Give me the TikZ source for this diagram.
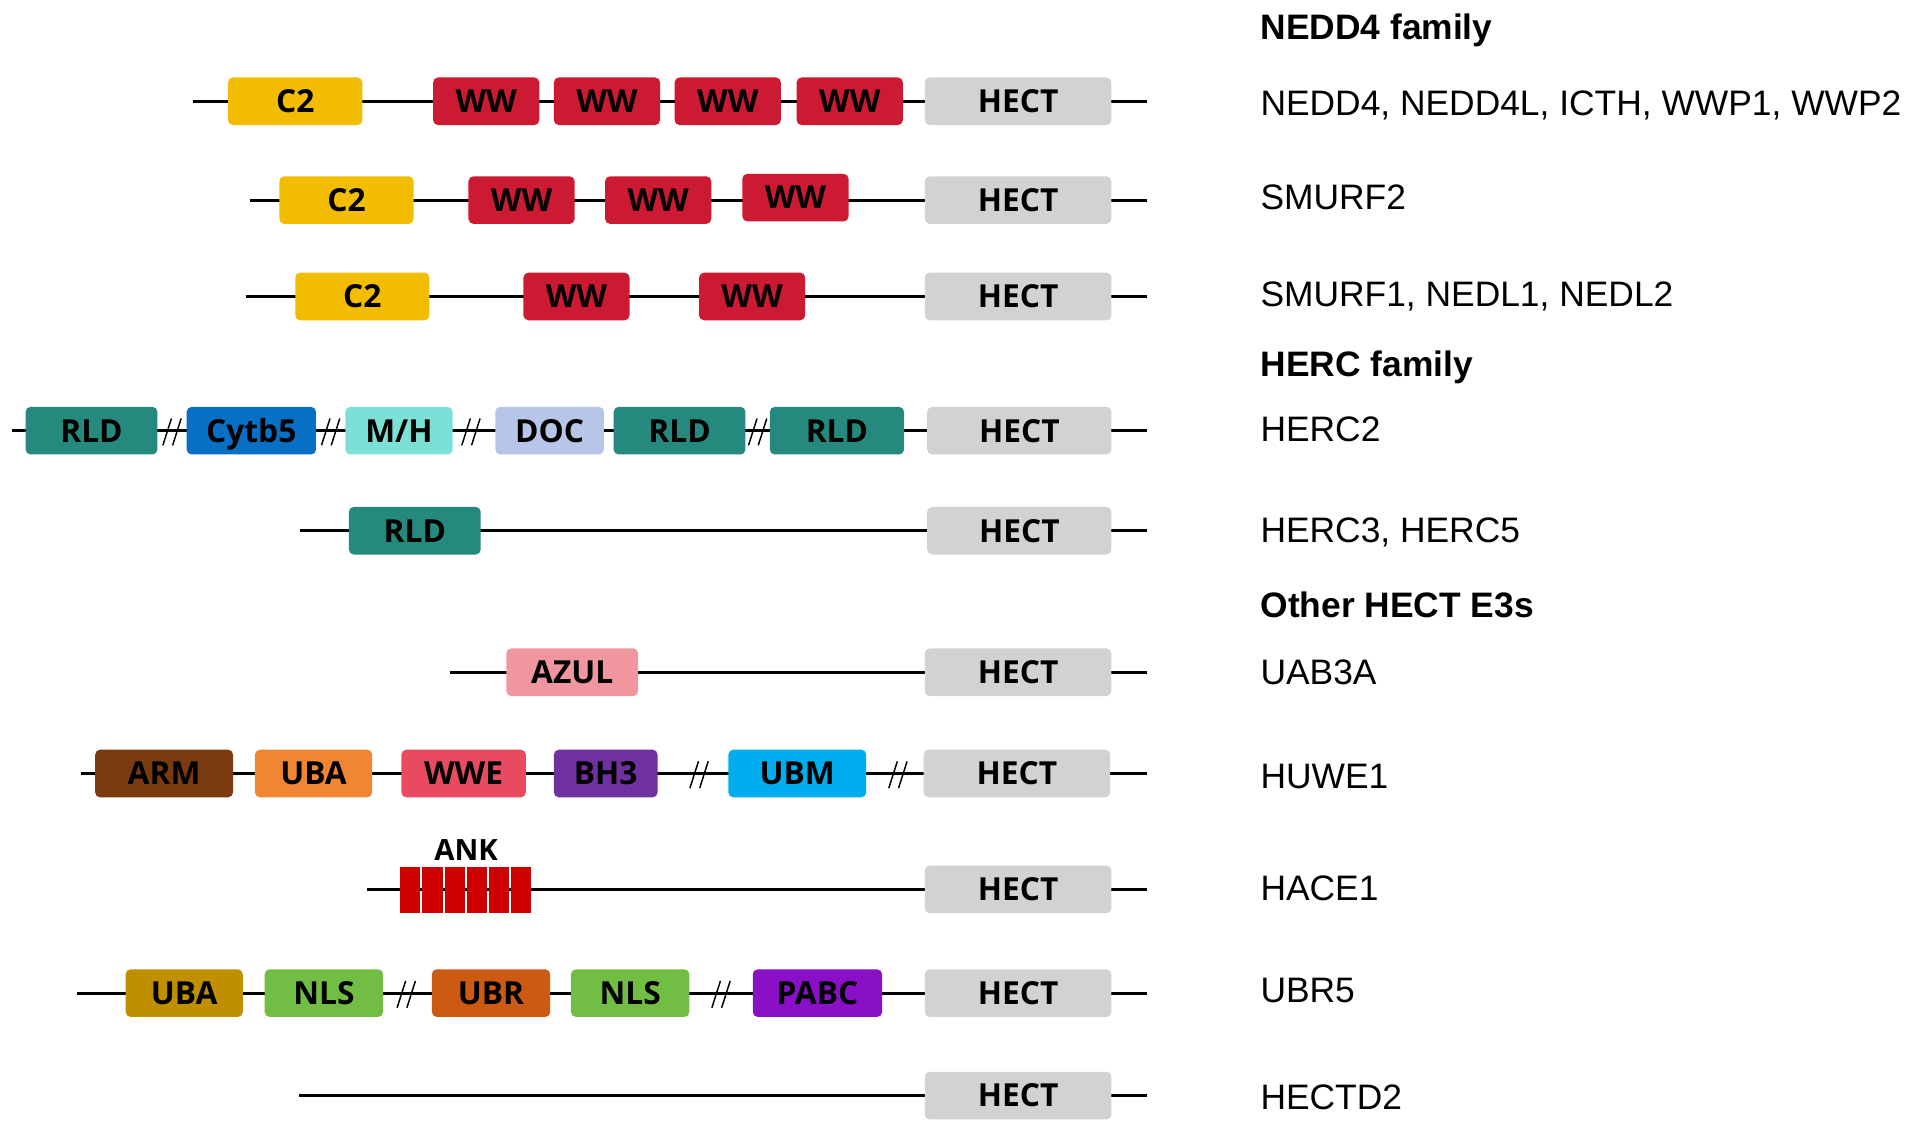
\documentclass[tikz,border=0pt]{standalone}
\usepackage{fontspec}
\setmainfont{Liberation Sans}
\newfontfamily\boxfont{Open Sans}
\begin{document}
\begin{tikzpicture}[x=1pt,y=-1pt,
  backbone/.style={line width=2.6pt},
  brk/.style={line width=1.2pt},
  dom/.style={rounded corners=4pt, minimum height=39pt, inner sep=0pt,
    text height=18.6pt, text depth=0pt, font=\boxfont\bfseries\fontsize{26}{26}\selectfont, text=black},
  hect/.style={dom, fill=hectgray, minimum width=153pt},
  ankblk/.style={fill=ankred, minimum width=16.6pt, minimum height=37pt, inner sep=0pt},
  protlbl/.style={anchor=base west, inner sep=0pt, font=\fontsize{29}{30}\selectfont},
  famlbl/.style={anchor=base west, inner sep=0pt, font=\bfseries\fontsize{29}{30}\selectfont}]
\definecolor{c2y}{HTML}{F2BC00}
\definecolor{wwred}{HTML}{CC1A33}
\definecolor{hectgray}{HTML}{D2D2D2}
\definecolor{rldteal}{HTML}{26897D}
\definecolor{cytblue}{HTML}{0770C4}
\definecolor{mhcyan}{HTML}{7DE0D6}
\definecolor{doclav}{HTML}{B6C5E8}
\definecolor{azulpink}{HTML}{F0969F}
\definecolor{armbrown}{HTML}{7A3B10}
\definecolor{ubaorange}{HTML}{F08633}
\definecolor{wwepink}{HTML}{E84A60}
\definecolor{bhpurple}{HTML}{7030A0}
\definecolor{ubmblue}{HTML}{00AEEF}
\definecolor{ankred}{HTML}{CC0000}
\definecolor{ubagold}{HTML}{BF8F00}
\definecolor{nlsgreen}{HTML}{72BE44}
\definecolor{ubrorange}{HTML}{CC5A12}
\definecolor{pabcpurple}{HTML}{8A10C8}

\useasboundingbox (0,0) rectangle (1568,930);

% ---------- backbones ----------
\coordinate (s1) at (158,83);  \coordinate (e1) at (940,83);
\coordinate (s2) at (205,164); \coordinate (e2) at (940,164);
\coordinate (s3) at (202,243); \coordinate (e3) at (940,243);
\coordinate (s4) at (10,353);  \coordinate (e4) at (940,353);
\coordinate (s5) at (246,435); \coordinate (e5) at (940,435);
\coordinate (s6) at (369,551); \coordinate (e6) at (940,551);
\coordinate (s7) at (66,634);  \coordinate (e7) at (940,634);
\coordinate (s8) at (301,729); \coordinate (e8) at (940,729);
\coordinate (s9) at (63,814);  \coordinate (e9) at (940,814);
\coordinate (s10) at (245,898); \coordinate (e10) at (940,898);
\foreach \i in {1,...,10} \draw[backbone] (s\i) -- (e\i);

% ---------- break marks ----------
\foreach \bx/\by in {141/354, 271/354, 386/354, 621/354, 573/635, 736/635, 333/815, 591/815}{
  \draw[brk] (\bx-7.5,\by+11) -- (\bx-0.5,\by-11);
  \draw[brk] (\bx+0.5,\by+11) -- (\bx+7.5,\by-11);
}

% ---------- NEDD4 family ----------
\node[dom, fill=c2y, minimum width=110pt] (r1c2) at (242,83) {C2};
\node[dom, fill=wwred, minimum width=87pt] (r1w1) at (398.5,83) {WW};
\node[dom, fill=wwred, minimum width=87pt] (r1w2) at (497.5,83) {WW};
\node[dom, fill=wwred, minimum width=87pt] (r1w3) at (596.5,83) {WW};
\node[dom, fill=wwred, minimum width=87pt] (r1w4) at (696.5,83) {WW};
\node[hect] (r1h) at (834.5,83) {HECT};

\node[dom, fill=c2y, minimum width=110pt] (r2c2) at (284,164) {C2};
\node[dom, fill=wwred, minimum width=87pt] (r2w1) at (427.5,164) {WW};
\node[dom, fill=wwred, minimum width=87pt] (r2w2) at (539.5,164) {WW};
\node[dom, fill=wwred, minimum width=87pt] (r2w3) at (652,162) {WW};
\node[hect] (r2h) at (834.5,164) {HECT};

\node[dom, fill=c2y, minimum width=110pt] (r3c2) at (297,243) {C2};
\node[dom, fill=wwred, minimum width=87pt] (r3w1) at (472.5,243) {WW};
\node[dom, fill=wwred, minimum width=87pt] (r3w2) at (616.5,243) {WW};
\node[hect] (r3h) at (834.5,243) {HECT};

% ---------- HERC family ----------
\node[dom, fill=rldteal, minimum width=108pt] (r4a) at (75,353) {RLD};
\node[dom, fill=cytblue, minimum width=106pt] (r4b) at (206,353) {Cytb5};
\node[dom, fill=mhcyan, minimum width=88pt] (r4c) at (327,353) {M/H};
\node[dom, fill=doclav, minimum width=89pt] (r4d) at (450.5,353) {DOC};
\node[dom, fill=rldteal, minimum width=108pt] (r4e) at (557,353) {RLD};
\node[dom, fill=rldteal, minimum width=110pt] (r4f) at (686,353) {RLD};
\node[hect, minimum width=151pt] (r4h) at (835.5,353) {HECT};

\node[dom, fill=rldteal, minimum width=108pt] (r5a) at (340,435) {RLD};
\node[hect, minimum width=151pt] (r5h) at (835.5,435) {HECT};

% ---------- Other HECT E3s ----------
\node[dom, fill=azulpink, minimum width=108pt] (r6a) at (469,551) {AZUL};
\node[hect] (r6h) at (834.5,551) {HECT};

\node[dom, fill=armbrown, minimum width=113pt] (r7a) at (134.5,634) {ARM};
\node[dom, fill=ubaorange, minimum width=96pt] (r7b) at (257,634) {UBA};
\node[dom, fill=wwepink, minimum width=102pt] (r7c) at (380,634) {WWE};
\node[dom, fill=bhpurple, minimum width=85pt] (r7d) at (496.5,634) {BH3};
\node[dom, fill=ubmblue, minimum width=113pt] (r7e) at (653.5,634) {UBM};
\node[hect] (r7h) at (833.5,634) {HECT};

\foreach \k in {0,...,5}
  \node[ankblk] (ank\k) at (336.3+18.17*\k,729.5) {};
\node[font=\boxfont\bfseries\fontsize{24}{24}\selectfont, inner sep=0pt, text height=17pt, text depth=0pt] (anklbl) at (382,697) {ANK};
\node[hect] (r8h) at (834.5,729) {HECT};

\node[dom, fill=ubagold, minimum width=96pt] (r9a) at (151,814) {UBA};
\node[dom, fill=nlsgreen, minimum width=97pt] (r9b) at (265.5,814) {NLS};
\node[dom, fill=ubrorange, minimum width=97pt] (r9c) at (402.5,814) {UBR};
\node[dom, fill=nlsgreen, minimum width=97pt] (r9d) at (516.5,814) {NLS};
\node[dom, fill=pabcpurple, minimum width=106pt] (r9e) at (670,814) {PABC};
\node[hect] (r9h) at (834.5,814) {HECT};

\node[hect] (r10h) at (834.5,898) {HECT};

% ---------- labels ----------
\node[famlbl] (h1) at (1033,32) {NEDD4 family};
\node[protlbl] (n1) at (1033,95) {NEDD4, NEDD4L, ICTH, WWP1, WWP2};
\node[protlbl] (n2) at (1033,172) {SMURF2};
\node[protlbl] (n3) at (1033,251) {SMURF1, NEDL1, NEDL2};
\node[famlbl] (h2) at (1033,309) {HERC family};
\node[protlbl] (n4) at (1033,362) {HERC2};
\node[protlbl] (n5) at (1033,445) {HERC3, HERC5};
\node[famlbl] (h3) at (1033,506) {Other HECT E3s};
\node[protlbl] (n6) at (1033,561) {UAB3A};
\node[protlbl] (n7) at (1033,646) {HUWE1};
\node[protlbl] (n8) at (1033,738) {HACE1};
\node[protlbl] (n9) at (1033,822) {UBR5};
\node[protlbl] (n10) at (1033,909) {HECTD2};
\end{tikzpicture}
\end{document}
